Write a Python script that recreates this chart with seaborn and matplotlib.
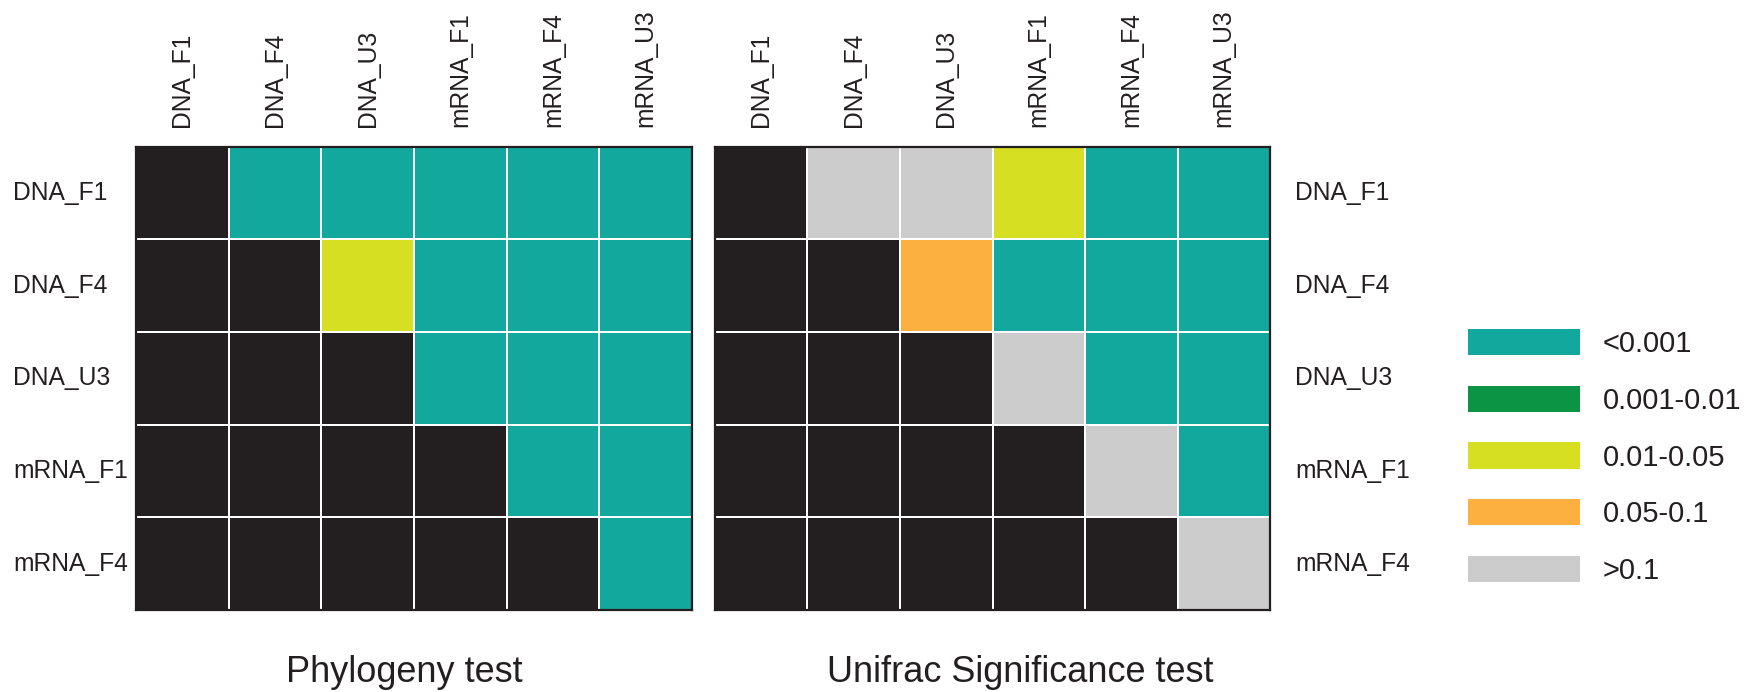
import numpy as np
import pandas as pd
import seaborn as sns
import matplotlib
matplotlib.use("Agg")
import matplotlib.pyplot as plt
from matplotlib.colors import ListedColormap
from matplotlib.patches import Patch

# Samples compared pairwise
col_samples = ["DNA_F1", "DNA_F4", "DNA_U3", "mRNA_F1", "mRNA_F4", "mRNA_U3"]
row_samples = ["DNA_F1", "DNA_F4", "DNA_U3", "mRNA_F1", "mRNA_F4"]

# Significance classes (p-value bins); code 0 = pair not tested
p_classes = ["<0.001", "0.001-0.01", "0.01-0.05", "0.05-0.1", ">0.1"]

# Class codes per pair: 1..5 -> index into p_classes (+1)
phylogeny_codes = [
    [0, 1, 1, 1, 1, 1],
    [0, 0, 3, 1, 1, 1],
    [0, 0, 0, 1, 1, 1],
    [0, 0, 0, 0, 1, 1],
    [0, 0, 0, 0, 0, 1],
]
unifrac_codes = [
    [0, 5, 5, 3, 1, 1],
    [0, 0, 4, 1, 1, 1],
    [0, 0, 0, 5, 1, 1],
    [0, 0, 0, 0, 5, 1],
    [0, 0, 0, 0, 0, 5],
]

untested_color = "#231F20"
class_colors = ["#13A89E", "#0B9444", "#D7DF23", "#FBB040", "#CCCCCC"]
text_color = "#231F20"

sns.set_theme(style="white")
plt.rcParams["font.family"] = ["Liberation Sans", "DejaVu Sans"]

cmap = ListedColormap([untested_color] + class_colors)

W, H = 1765, 692
fig = plt.figure(figsize=(W / 100, H / 100), dpi=100)
label_size = 17.7


def px_axes(x0, y0, x1, y1):
    return fig.add_axes([x0 / W, 1 - y1 / H, (x1 - x0) / W, (y1 - y0) / H])


ax_l = px_axes(136, 146.5, 692, 610)
ax_r = px_axes(715, 146.5, 1270, 610)

for ax, codes in ((ax_l, phylogeny_codes), (ax_r, unifrac_codes)):
    df = pd.DataFrame(codes, index=row_samples, columns=col_samples)
    sns.heatmap(df, ax=ax, cmap=cmap, vmin=-0.5, vmax=5.5, cbar=False,
                linewidths=1.2, linecolor="white", square=False)
    for s in ax.spines.values():
        s.set_visible(True)
        s.set_color(untested_color)
        s.set_linewidth(1.6)
    ax.xaxis.tick_top()
    ax.set_xlabel("")
    ax.set_ylabel("")
    ax.tick_params(axis="both", length=0, colors=text_color,
                   labelsize=label_size)
    ax.tick_params(axis="x", pad=14)
    plt.setp(ax.get_xticklabels(), rotation=90, ha="center", va="bottom")

# Row labels: left-aligned far left of first panel, right of second panel
ax_l.tick_params(axis="y", pad=88.5, labelrotation=0)
plt.setp(ax_l.get_yticklabels(), ha="left", va="center")
ax_r.yaxis.tick_right()
ax_r.tick_params(axis="y", pad=18, labelright=True, labelleft=False,
                 labelrotation=0, length=0, colors=text_color,
                 labelsize=label_size)
for t in ax_r.yaxis.get_majorticklabels():
    t.set_rotation(0)
    t.set_ha("left")
    t.set_va("center")

fig.text(404 / W, 1 - 682 / H, "Phylogeny test", ha="center", va="baseline",
         fontsize=26, color=text_color)
fig.text(1020 / W, 1 - 682 / H, "Unifrac Significance test", ha="center",
         va="baseline", fontsize=26, color=text_color)

handles = [Patch(facecolor=c, edgecolor="none") for c in class_colors]
fig.legend(handles, p_classes, loc="center left",
           bbox_to_anchor=(1468 / W, 1 - 457 / H), frameon=False,
           fontsize=21, handlelength=3.84, handleheight=1.0,
           handletextpad=0.78, labelspacing=0.95, borderpad=0,
           borderaxespad=0, labelcolor=text_color)

fig.savefig("out.png", dpi=100)
